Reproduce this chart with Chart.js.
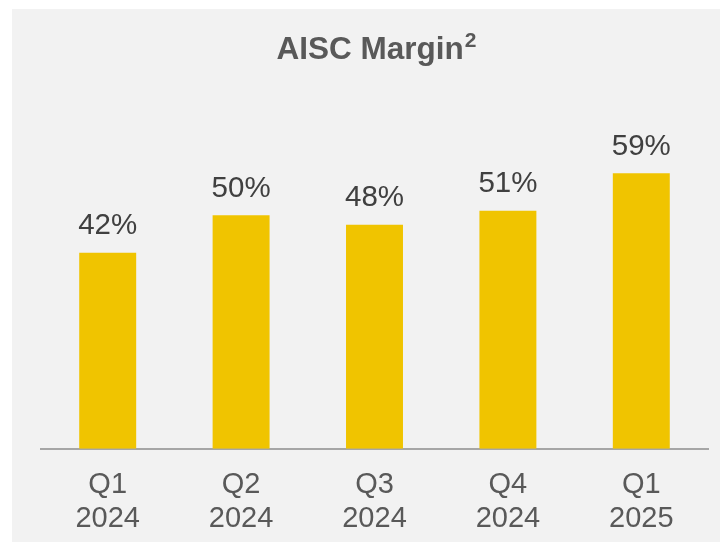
<!DOCTYPE html>
<html>
<head>
<meta charset="utf-8">
<script src="https://cdn.jsdelivr.net/npm/chart.js@4.4.1/dist/chart.umd.min.js"></script>
<style>
  html, body { margin: 0; padding: 0; background: #ffffff; overflow: hidden; }
  #wrap { position: absolute; left: 12px; top: 9px; width: 708px; height: 533px; background: #f2f2f2; overflow: hidden; }
</style>
</head>
<body>
<div id="wrap"><canvas id="marginChart" width="708" height="551"></canvas></div>
<script>
const quarters = [["Q1", "2024"], ["Q2", "2024"], ["Q3", "2024"], ["Q4", "2024"], ["Q1", "2025"]]
const aiscMargin = [42, 50, 48, 51, 59]
const titleText = "AISC Margin"
const titleSup = "2"

const FONT = "'Liberation Sans', Arial, sans-serif"

// title with a real superscript, chart.js title can't do that
const supTitle = {
   id: 'supTitle',
   afterDraw(chart) {
      const ctx = chart.ctx
      const area = chart.chartArea
      ctx.save()
      ctx.fillStyle = '#595959'
      ctx.textBaseline = 'alphabetic'
      ctx.textAlign = 'left'
      ctx.font = "bold 31.5px " + FONT
      const w1 = ctx.measureText(titleText).width
      ctx.font = "bold 21px " + FONT
      const w2 = ctx.measureText(titleSup).width
      const x0 = (area.left + area.right) / 2 + 2 - (w1 + 1 + w2) / 2
      ctx.font = "bold 31.5px " + FONT
      ctx.fillText(titleText, x0, 50.3)
      ctx.font = "bold 21px " + FONT
      ctx.fillText(titleSup, x0 + w1 + 1, 38)
      ctx.restore()
   }
}

// % value above each bar
const valueLabels = {
   id: 'valueLabels',
   afterDatasetsDraw(chart) {
      const ctx = chart.ctx
      const meta = chart.getDatasetMeta(0)
      ctx.save()
      ctx.font = "29.5px " + FONT
      ctx.fillStyle = '#404040'
      ctx.textAlign = 'center'
      ctx.textBaseline = 'alphabetic'
      meta.data.forEach((bar, i) => {
         ctx.fillText(aiscMargin[i] + "%", bar.x, bar.y - 18.5)
      })
      ctx.restore()
   }
}

const ctx = document.getElementById("marginChart").getContext('2d')
new Chart(ctx, {
   type: 'bar',
   data: {
      labels: quarters,
      datasets: [{
         data: aiscMargin,
         backgroundColor: '#f0c400',
         borderWidth: 0,
         categoryPercentage: 1,
         barPercentage: 0.427
      }]
   },
   options: {
      responsive: false,
      animation: false,
      layout: {
         padding: { left: 29, right: 12, top: 89.7, bottom: 4.8 }
      },
      plugins: {
         legend: { display: false },
         tooltip: { enabled: false },
         title: { display: false }
      },
      scales: {
         x: {
            grid: { display: false, drawTicks: false },
            border: { display: true, color: '#a6a6a6', width: 2 },
            ticks: {
               color: '#595959',
               padding: 19.9,
               maxRotation: 0,
               font: { family: FONT, size: 29, lineHeight: 1.15 }
            }
         },
         y: {
            display: false,
            min: 0,
            max: 75
         }
      }
   },
   plugins: [valueLabels, supTitle]
})
</script>
</body>
</html>
